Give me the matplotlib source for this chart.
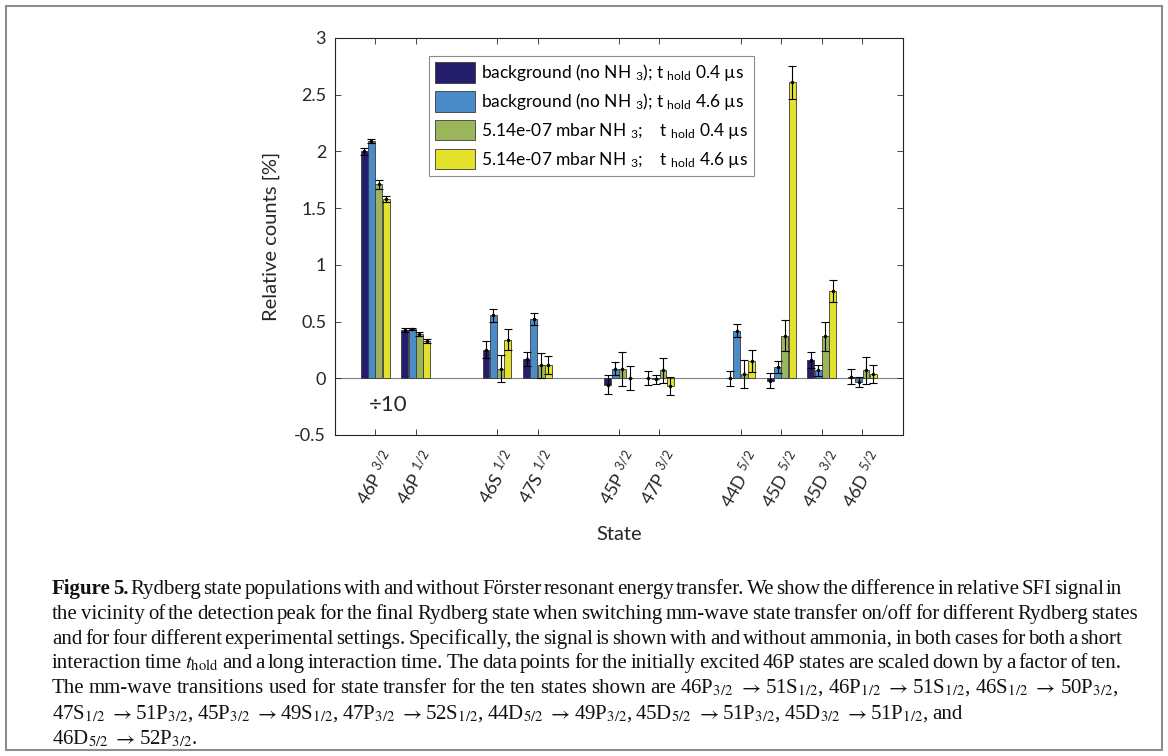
import numpy as np
import matplotlib.pyplot as plt
from matplotlib.patches import Rectangle

plt.rcParams['font.family'] = ['Lato', 'DejaVu Sans']
plt.rcParams['mathtext.fontset'] = 'custom'
plt.rcParams['mathtext.rm'] = 'Lato'
plt.rcParams['mathtext.it'] = 'Lato:italic'
plt.rcParams['mathtext.bf'] = 'Lato:bold'

# states (46P values already divided by ten, as in the figure)
states = [r'46P $^{3/2}$', r'46P $^{1/2}$', r'46S $^{1/2}$', r'47S $^{1/2}$', r'45P $^{3/2}$',
          r'47P $^{3/2}$', r'44D $^{5/2}$', r'45D $^{5/2}$', r'45D $^{3/2}$', r'46D $^{5/2}$']
state_x = [1, 2, 4, 5, 7, 8, 10, 11, 12, 13]

bg_short = [2.00, 0.425, 0.25, 0.17, -0.055, 0.005, 0.0, -0.02, 0.16, 0.015]
bg_long = [2.09, 0.435, 0.555, 0.525, 0.085, -0.01, 0.42, 0.10, 0.07, -0.035]
nh3_short = [1.71, 0.39, 0.085, 0.115, 0.08, 0.07, 0.04, 0.375, 0.37, 0.07]
nh3_long = [1.58, 0.33, 0.34, 0.115, 0.005, -0.07, 0.15, 2.61, 0.77, 0.04]

bg_short_err = [0.03, 0.015, 0.075, 0.065, 0.08, 0.06, 0.068, 0.065, 0.07, 0.065]
bg_long_err = [0.02, 0.01, 0.06, 0.053, 0.057, 0.04, 0.06, 0.05, 0.05, 0.045]
nh3_short_err = [0.04, 0.02, 0.12, 0.11, 0.15, 0.11, 0.125, 0.135, 0.13, 0.12]
nh3_long_err = [0.025, 0.015, 0.095, 0.08, 0.105, 0.078, 0.095, 0.145, 0.10, 0.08]

labels = [r'background (no NH $_3$); t $_{\mathrm{hold}}$ 0.4 µs',
          r'background (no NH $_3$); t $_{\mathrm{hold}}$ 4.6 µs',
          r'5.14e-07 mbar NH $_3$;    t $_{\mathrm{hold}}$ 0.4 µs',
          r'5.14e-07 mbar NH $_3$;    t $_{\mathrm{hold}}$ 4.6 µs']
colors = ['#241d6c', '#4a8bc9', '#9bb55b', '#e3e12b']

caption = [
    r'Figure 5. Rydberg state populations with and without Förster resonant energy transfer. We show the difference in relative SFI signal in',
    r'the vicinity of the detection peak for the final Rydberg state when switching mm-wave state transfer on/off for different Rydberg states',
    r'and for four different experimental settings. Specifically, the signal is shown with and without ammonia, in both cases for both a short',
    r'interaction time $t_{\mathrm{hold}}$ and a long interaction time. The data points for the initially excited 46P states are scaled down by a factor of ten.',
    r'The mm-wave transitions used for state transfer for the ten states shown are 46P$_{3/2}$ $\rightarrow$ 51S$_{1/2}$, 46P$_{1/2}$ $\rightarrow$ 51S$_{1/2}$, 46S$_{1/2}$ $\rightarrow$ 50P$_{3/2}$,',
    r'47S$_{1/2}$ $\rightarrow$ 51P$_{3/2}$, 45P$_{3/2}$ $\rightarrow$ 49S$_{1/2}$, 47P$_{3/2}$ $\rightarrow$ 52S$_{1/2}$, 44D$_{5/2}$ $\rightarrow$ 49P$_{3/2}$, 45D$_{5/2}$ $\rightarrow$ 51P$_{3/2}$, 45D$_{3/2}$ $\rightarrow$ 51P$_{1/2}$, and',
    r'46D$_{5/2}$ $\rightarrow$ 52P$_{3/2}$.',
]
caption_right = [1122, 1138, 1122, 1122, 1118, None, None]

W, H = 1168, 756
fig = plt.figure(figsize=(W / 100, H / 100), dpi=100)
fig.patches.append(Rectangle((6 / W, 6 / H), 1156 / W, 744 / H, transform=fig.transFigure,
                             fill=False, ec='#8c8c8c', lw=1.5))

ax = fig.add_axes([334.5 / W, 1 - 435 / H, 568.5 / W, 397 / H])
offsets = np.array([-1.5, -0.5, 0.5, 1.5]) * 0.18
series = [(bg_short, bg_short_err), (bg_long, bg_long_err), (nh3_short, nh3_short_err), (nh3_long, nh3_long_err)]
ax.axhline(0, color='#808080', lw=0.8, zorder=1)
for i, (vals, errs) in enumerate(series):
    xs = np.array(state_x) + offsets[i]
    ax.bar(xs, vals, 0.17, color=colors[i], edgecolor='#3a3a3a', linewidth=0.6, label=labels[i], zorder=2)
    ax.errorbar(xs, vals, yerr=errs, fmt='.', color='k', ms=3, capsize=3.2,
                elinewidth=0.8, capthick=0.8, zorder=3)

ax.set_xlim(0, 14)
ax.set_ylim(-0.5, 3)
ax.set_yticks(np.arange(-0.5, 3.01, 0.5))
ax.yaxis.set_major_formatter(lambda v, p: f'{v:g}')
ax.set_xticks(state_x)
ax.set_xticklabels(states, rotation=60, ha='center', va='top', fontsize=13.5)
ax.tick_params(direction='in', top=True, right=True, length=4.5, width=0.6, color='#262626',
               labelsize=13, labelcolor='#262626')
ax.tick_params(axis='x', pad=9)
ax.tick_params(axis='y', pad=6)
for s in ax.spines.values():
    s.set_linewidth(0.8)
    s.set_color('#262626')
ax.set_ylabel('Relative counts [%]', fontsize=14.5, color='#262626', labelpad=10)
ax.set_xlabel('State', fontsize=14.5, color='#262626', labelpad=11)
ax.text(1.32, -0.235, '÷10', ha='center', va='center', fontsize=16, color='#262626')

leg = ax.legend(loc='upper left', bbox_to_anchor=((429 - 334.5) / 568.5, (435 - 56) / 397),
                borderaxespad=0, fontsize=12.5, handlelength=2.3, handleheight=1.45,
                labelspacing=0.45, handletextpad=0.35, borderpad=0.35, fancybox=False,
                edgecolor='#8c8c8c', framealpha=1)
leg.get_frame().set_linewidth(0.8)

# caption, laid out word by word so the lines fill the same width as the original
renderer = fig.canvas.get_renderer()
cap_size = 15
baselines = [594, 619, 644, 668, 693, 719, 744]
for n, line in enumerate(caption):
    words = line.split(' ')
    arts = []
    for k, w in enumerate(words):
        bold = n == 0 and k < 2
        arts.append(fig.text(0, 1 - baselines[n] / H, w, ha='left', va='baseline', fontsize=cap_size,
                             family='Liberation Serif', math_fontfamily='stix',
                             fontweight='bold' if bold else 'normal', color='#111111'))
    widths = [t.get_window_extent(renderer).width for t in arts]
    if caption_right[n] is None:
        gap = 0.17 * cap_size * 100 / 72
    else:
        gap = (caption_right[n] - 52 - sum(widths)) / (len(words) - 1)
    x = 52
    for t, wd in zip(arts, widths):
        t.set_x(x / W)
        x += wd + gap

fig.savefig('out.png', dpi=100)
